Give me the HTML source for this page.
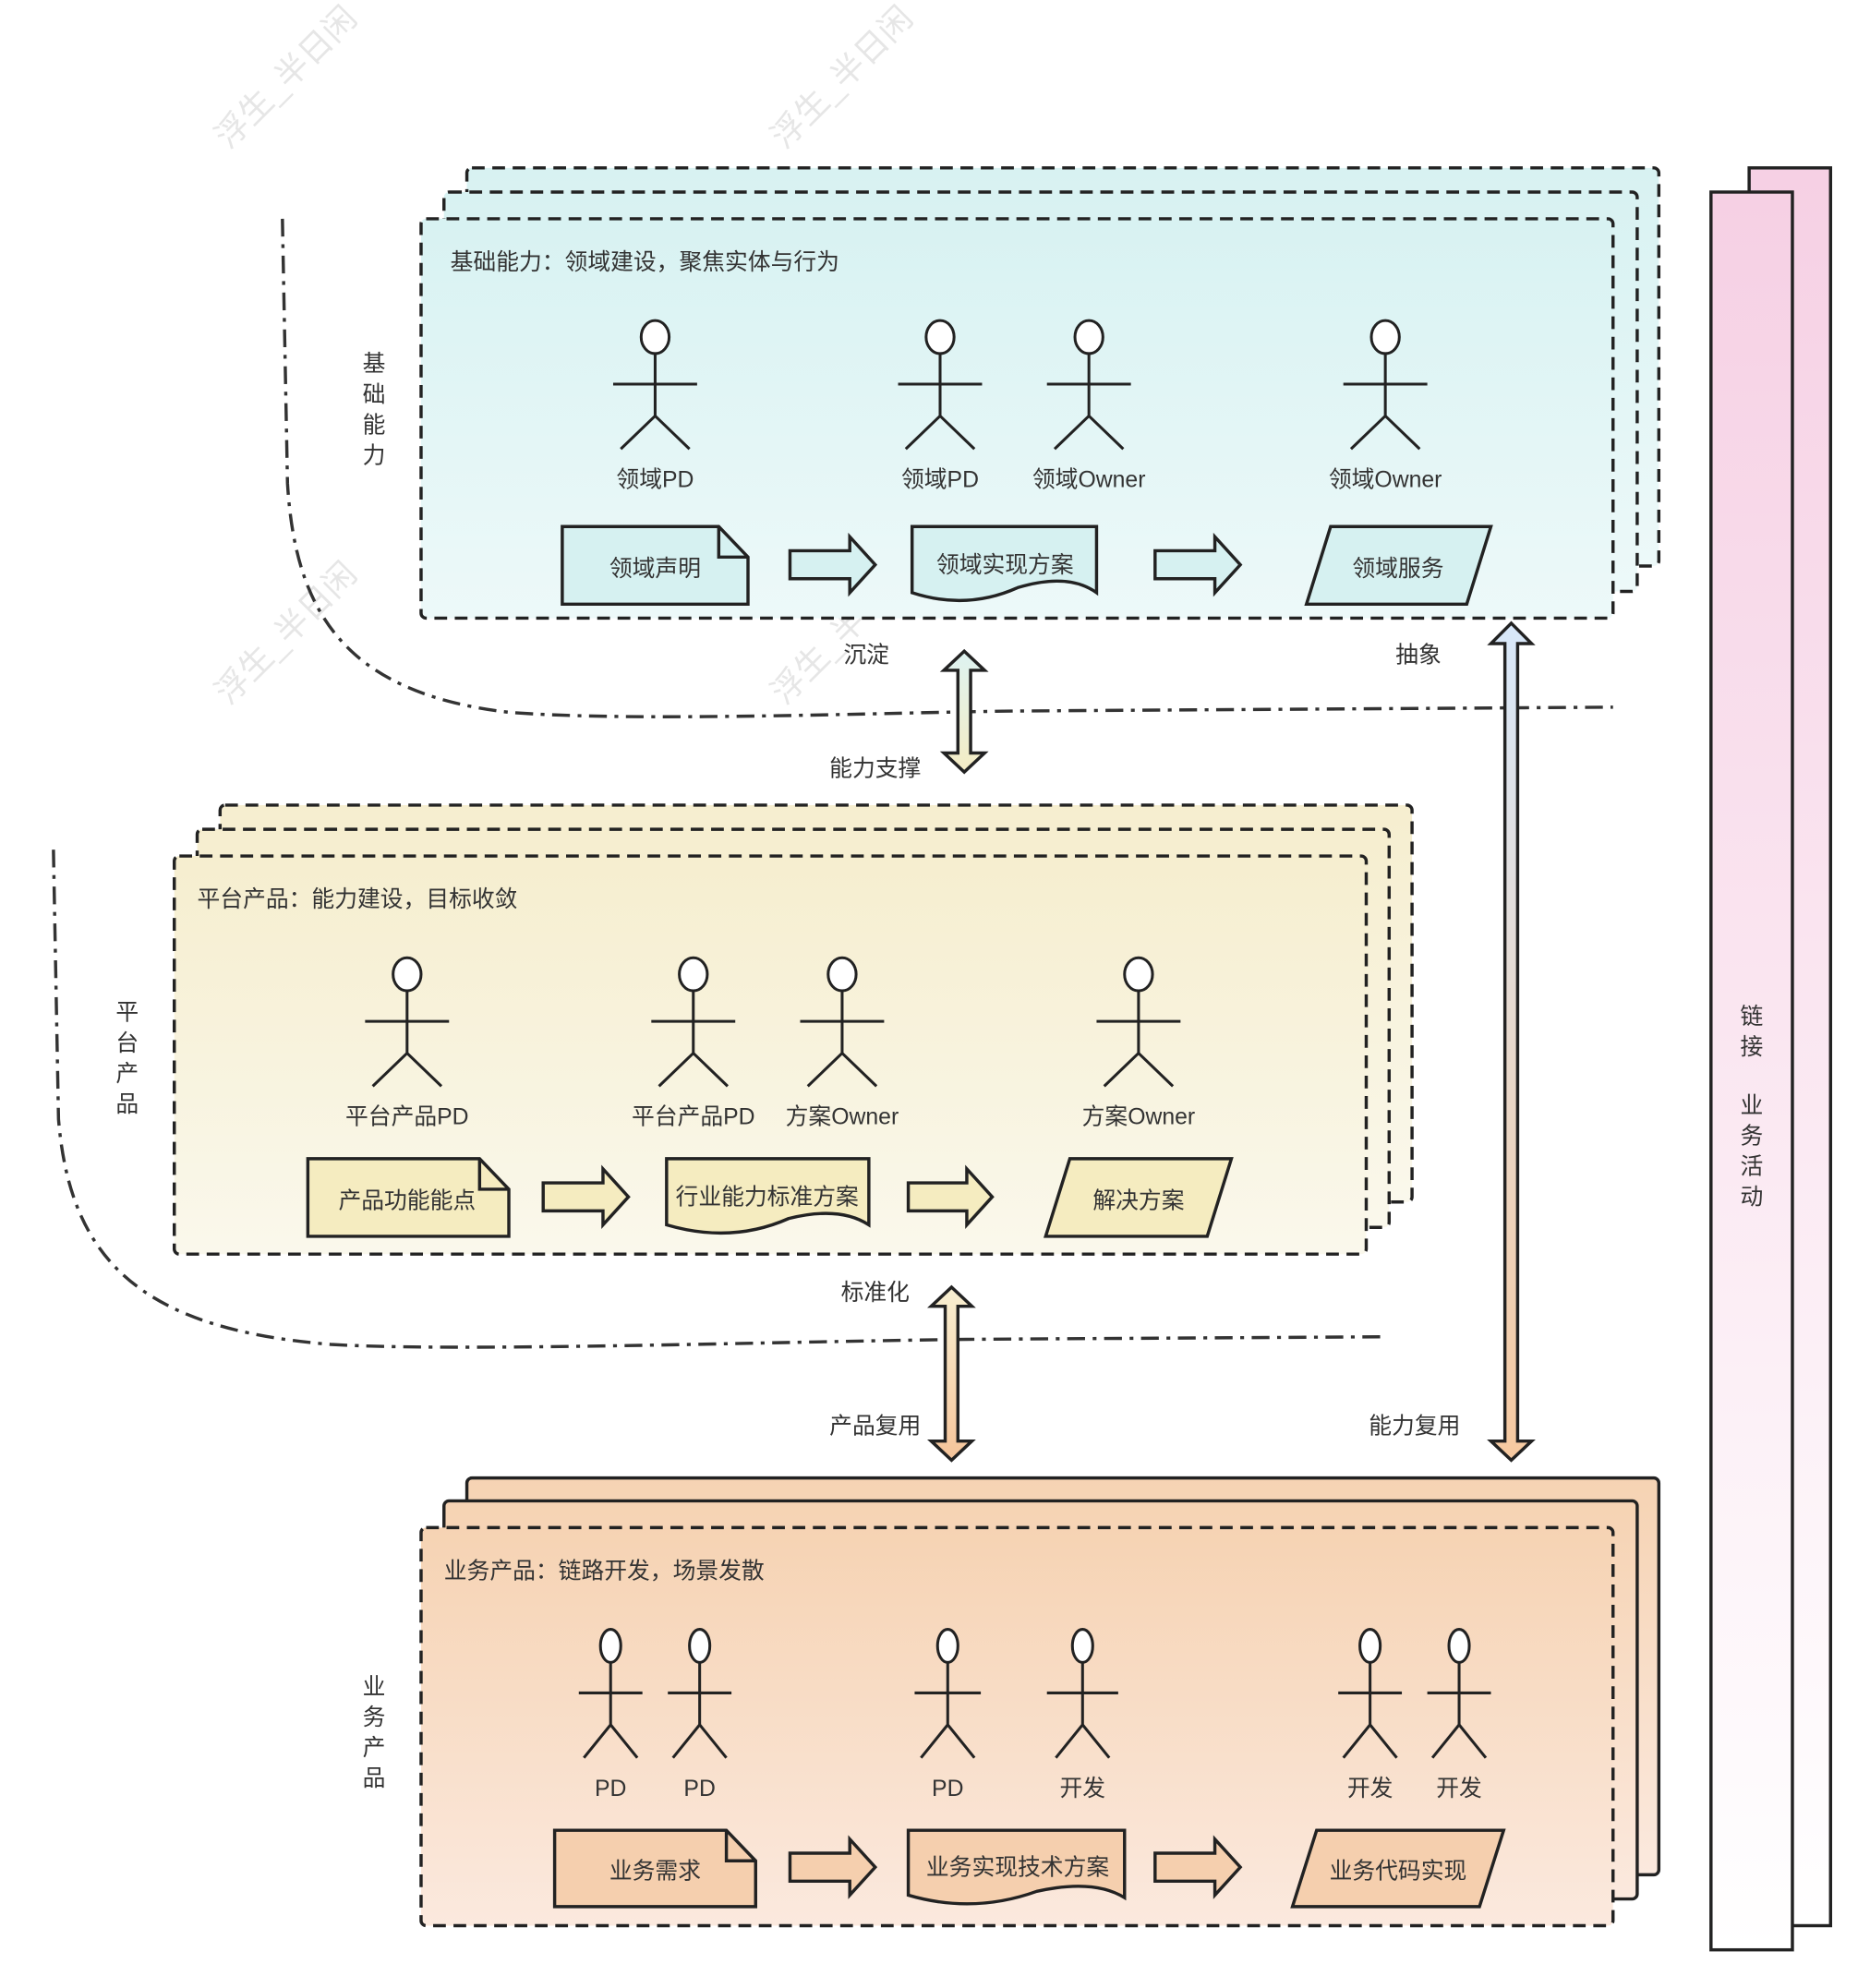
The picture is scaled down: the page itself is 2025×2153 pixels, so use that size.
<!DOCTYPE html>
<html><head><meta charset="utf-8"><style>
html,body{margin:0;padding:0;background:#fff;}
svg{display:block;}
text{font-family:"Liberation Sans","Noto Sans CJK SC",sans-serif;fill:#333;}
</style></head><body>
<svg width="2025" height="2153" viewBox="0 0 1470 1563" preserveAspectRatio="none" xmlns="http://www.w3.org/2000/svg">
<defs>
<linearGradient id="gc" x1="0" y1="0" x2="0" y2="1"><stop offset="0" stop-color="#d8f2f2"/><stop offset="1" stop-color="#edf9f9"/></linearGradient>
<linearGradient id="gy" x1="0" y1="0" x2="0" y2="1"><stop offset="0" stop-color="#f6eecf"/><stop offset="1" stop-color="#faf8ec"/></linearGradient>
<linearGradient id="go" x1="0" y1="0" x2="0" y2="1"><stop offset="0" stop-color="#f6d3b3"/><stop offset="1" stop-color="#fbe9de"/></linearGradient>
<linearGradient id="gp" x1="0" y1="0" x2="0" y2="1"><stop offset="0" stop-color="#f6d0e4"/><stop offset="1" stop-color="#ffffff"/></linearGradient>
<linearGradient id="ga1" x1="0" y1="0" x2="0" y2="1"><stop offset="0" stop-color="#def3f1"/><stop offset="1" stop-color="#f5ecc4"/></linearGradient>
<linearGradient id="ga2" x1="0" y1="0" x2="0" y2="1"><stop offset="0" stop-color="#d8e8fa"/><stop offset="1" stop-color="#f6c9a0"/></linearGradient>
<linearGradient id="ga3" x1="0" y1="0" x2="0" y2="1"><stop offset="0" stop-color="#f8f0d2"/><stop offset="1" stop-color="#f5c49a"/></linearGradient>
</defs>

<!-- watermarks -->
<g font-size="26" fill="#e4e4e4" style="fill:#e6e6e6">
<text x="180" y="118" transform="rotate(-45 180 118)" style="fill:#e6e6e6">浮生_半日闲</text>
<text x="617" y="118" transform="rotate(-45 617 118)" style="fill:#e6e6e6">浮生_半日闲</text>
<text x="180" y="555" transform="rotate(-45 180 555)" style="fill:#e6e6e6">浮生_半日闲</text>
<text x="617" y="555" transform="rotate(-45 617 555)" style="fill:#e6e6e6">浮生_半日闲</text>
</g>

<!-- pink right column -->
<rect x="1375" y="132" width="64" height="1382" fill="url(#gp)" stroke="#222" stroke-width="2.5"/>
<rect x="1345" y="151" width="64" height="1382" fill="url(#gp)" stroke="#222" stroke-width="2.5"/>
<g font-size="18" text-anchor="middle">
<text x="1377" y="805">链</text><text x="1377" y="829">接</text>
<text x="1377" y="875">业</text><text x="1377" y="899">务</text><text x="1377" y="923">活</text><text x="1377" y="947">动</text>
</g>

<!-- dash-dot curves -->
<path d="M222,172 L226,380 C232,480 270,545 400,560 C500,568 700,560 800,559 L1268,556" fill="none" stroke="#333" stroke-width="2.5" stroke-dasharray="14,6,3,6"/>
<path d="M42,668 L46,880 C55,990 110,1045 260,1057 C360,1063 600,1055 760,1053 L1090,1051" fill="none" stroke="#333" stroke-width="2.5" stroke-dasharray="14,6,3,6"/>

<!-- TOP block -->
<g stroke="#222" stroke-width="2.5" stroke-dasharray="10,6">
<rect x="367" y="132" width="937" height="313" rx="4" fill="url(#gc)"/>
<rect x="349" y="151" width="938" height="314" rx="4" fill="url(#gc)"/>
<rect x="331" y="172" width="937" height="314" rx="4" fill="url(#gc)"/>
</g>
<text x="354" y="212" font-size="18">基础能力：领域建设，聚焦实体与行为</text>
<g font-size="18" text-anchor="middle"><text x="294" y="292">基</text><text x="294" y="316">础</text><text x="294" y="340">能</text><text x="294" y="364">力</text></g>

<!-- MIDDLE block -->
<g stroke="#222" stroke-width="2.5" stroke-dasharray="10,6">
<rect x="173" y="633" width="937" height="312" rx="4" fill="url(#gy)"/>
<rect x="155" y="652" width="937" height="313" rx="4" fill="url(#gy)"/>
<rect x="137" y="673" width="937" height="313" rx="4" fill="url(#gy)"/>
</g>
<text x="155" y="713" font-size="18">平台产品：能力建设，目标收敛</text>
<g font-size="18" text-anchor="middle"><text x="100" y="802">平</text><text x="100" y="826">台</text><text x="100" y="850">产</text><text x="100" y="874">品</text></g>

<!-- BOTTOM block -->
<g stroke="#222" stroke-width="2.5">
<rect x="367" y="1162" width="937" height="312" rx="4" fill="url(#go)"/>
<rect x="349" y="1180" width="938" height="313" rx="4" fill="url(#go)"/>
<rect x="331" y="1201" width="937" height="313" rx="4" fill="url(#go)" stroke-dasharray="10,6"/>
</g>
<text x="349" y="1241" font-size="18">业务产品：链路开发，场景发散</text>
<g font-size="18" text-anchor="middle"><text x="294" y="1332">业</text><text x="294" y="1356">务</text><text x="294" y="1380">产</text><text x="294" y="1404">品</text></g>

<!-- actors -->
<g stroke="#222" stroke-width="2.2" fill="#fff">
<!-- top -->
<g transform="translate(515,0)"><ellipse cx="0" cy="265" rx="11" ry="13"/><path d="M0,278V327M-33,302H33M0,327L-27,353M0,327L27,353" fill="none"/></g>
<g transform="translate(739,0)"><ellipse cx="0" cy="265" rx="11" ry="13"/><path d="M0,278V327M-33,302H33M0,327L-27,353M0,327L27,353" fill="none"/></g>
<g transform="translate(856,0)"><ellipse cx="0" cy="265" rx="11" ry="13"/><path d="M0,278V327M-33,302H33M0,327L-27,353M0,327L27,353" fill="none"/></g>
<g transform="translate(1089,0)"><ellipse cx="0" cy="265" rx="11" ry="13"/><path d="M0,278V327M-33,302H33M0,327L-27,353M0,327L27,353" fill="none"/></g>
<!-- middle -->
<g transform="translate(320,501)"><ellipse cx="0" cy="265" rx="11" ry="13"/><path d="M0,278V327M-33,302H33M0,327L-27,353M0,327L27,353" fill="none"/></g>
<g transform="translate(545,501)"><ellipse cx="0" cy="265" rx="11" ry="13"/><path d="M0,278V327M-33,302H33M0,327L-27,353M0,327L27,353" fill="none"/></g>
<g transform="translate(662,501)"><ellipse cx="0" cy="265" rx="11" ry="13"/><path d="M0,278V327M-33,302H33M0,327L-27,353M0,327L27,353" fill="none"/></g>
<g transform="translate(895,501)"><ellipse cx="0" cy="265" rx="11" ry="13"/><path d="M0,278V327M-33,302H33M0,327L-27,353M0,327L27,353" fill="none"/></g>
<!-- bottom -->
<g transform="translate(480,1029)"><ellipse cx="0" cy="265" rx="8" ry="13"/><path d="M0,278V327M-25,302H25M0,327L-21,353M0,327L21,353" fill="none"/></g>
<g transform="translate(550,1029)"><ellipse cx="0" cy="265" rx="8" ry="13"/><path d="M0,278V327M-25,302H25M0,327L-21,353M0,327L21,353" fill="none"/></g>
<g transform="translate(745,1029)"><ellipse cx="0" cy="265" rx="8" ry="13"/><path d="M0,278V327M-26,302H26M0,327L-21,353M0,327L21,353" fill="none"/></g>
<g transform="translate(851,1029)"><ellipse cx="0" cy="265" rx="8" ry="13"/><path d="M0,278V327M-28,302H28M0,327L-21,353M0,327L21,353" fill="none"/></g>
<g transform="translate(1077,1029)"><ellipse cx="0" cy="265" rx="8" ry="13"/><path d="M0,278V327M-25,302H25M0,327L-21,353M0,327L21,353" fill="none"/></g>
<g transform="translate(1147,1029)"><ellipse cx="0" cy="265" rx="8" ry="13"/><path d="M0,278V327M-25,302H25M0,327L-21,353M0,327L21,353" fill="none"/></g>
</g>
<g font-size="18" text-anchor="middle">
<text x="515" y="383">领域PD</text><text x="739" y="383">领域PD</text><text x="856" y="383">领域Owner</text><text x="1089" y="383">领域Owner</text>
<text x="320" y="884">平台产品PD</text><text x="545" y="884">平台产品PD</text><text x="662" y="884">方案Owner</text><text x="895" y="884">方案Owner</text>
<text x="480" y="1412">PD</text><text x="550" y="1412">PD</text><text x="745" y="1412">PD</text><text x="851" y="1412">开发</text><text x="1077" y="1412">开发</text><text x="1147" y="1412">开发</text>
</g>

<!-- shapes row top -->
<g stroke="#222" stroke-width="2.5" fill="#d6f1f1">
<path d="M442,414H565L588,438V475H442Z"/><path d="M565,414V438H588" fill="none"/>
<path d="M621,433H668V422L688,444L668,466V455H621Z"/>
<path d="M717,414H862V466Q840,450 800,462Q760,480 717,466Z"/>
<path d="M908,433H955V422L975,444L955,466V455H908Z"/>
<path d="M1046,414H1172L1153,475H1027Z"/>
</g>
<!-- shapes row middle -->
<g stroke="#222" stroke-width="2.5" fill="#f5ecc0">
<path d="M242,911H377L400,935V972H242Z"/><path d="M377,911V935H400" fill="none"/>
<path d="M427,930H474V919L494,941L474,963V952H427Z"/>
<path d="M524,911H683V963Q660,948 620,958Q575,978 524,963Z"/>
<path d="M714,930H760V919L780,941L760,963V952H714Z"/>
<path d="M841,911H968L949,972H822Z"/>
</g>
<!-- shapes row bottom -->
<g stroke="#222" stroke-width="2.5" fill="#f5cfae">
<path d="M436,1439H571L594,1463V1499H436Z"/><path d="M571,1439V1463H594" fill="none"/>
<path d="M621,1457H668V1446L688,1468L668,1490V1479H621Z"/>
<path d="M714,1439H884V1492Q860,1477 815,1487Q765,1505 714,1490Z"/>
<path d="M908,1457H955V1446L975,1468L955,1490V1479H908Z"/>
<path d="M1035,1439H1182L1163,1499H1016Z"/>
</g>
<g font-size="18" text-anchor="middle">
<text x="515" y="453">领域声明</text><text x="790" y="450">领域实现方案</text><text x="1099" y="453">领域服务</text>
<text x="320" y="950">产品功能能点</text><text x="603" y="947">行业能力标准方案</text><text x="895" y="950">解决方案</text>
<text x="515" y="1477">业务需求</text><text x="800" y="1474">业务实现技术方案</text><text x="1099" y="1477">业务代码实现</text>
</g>

<!-- connector arrows -->
<g stroke="#222" stroke-width="2.5">
<path d="M758,512L774,527H763V592H774L758,607L742,592H753V527H742Z" fill="url(#ga1)"/>
<path d="M1188,490L1204,506H1193V1133H1204L1188,1148L1172,1133H1183V506H1172Z" fill="url(#ga2)"/>
<path d="M748,1012L764,1027H753V1133H764L748,1148L732,1133H743V1027H732Z" fill="url(#ga3)"/>
</g>
<g font-size="18" text-anchor="middle">
<text x="681" y="521">沉淀</text><text x="688" y="610">能力支撑</text><text x="1115" y="521">抽象</text>
<text x="688" y="1022">标准化</text><text x="688" y="1127">产品复用</text><text x="1112" y="1127">能力复用</text>
</g>
</svg>
</body></html>
